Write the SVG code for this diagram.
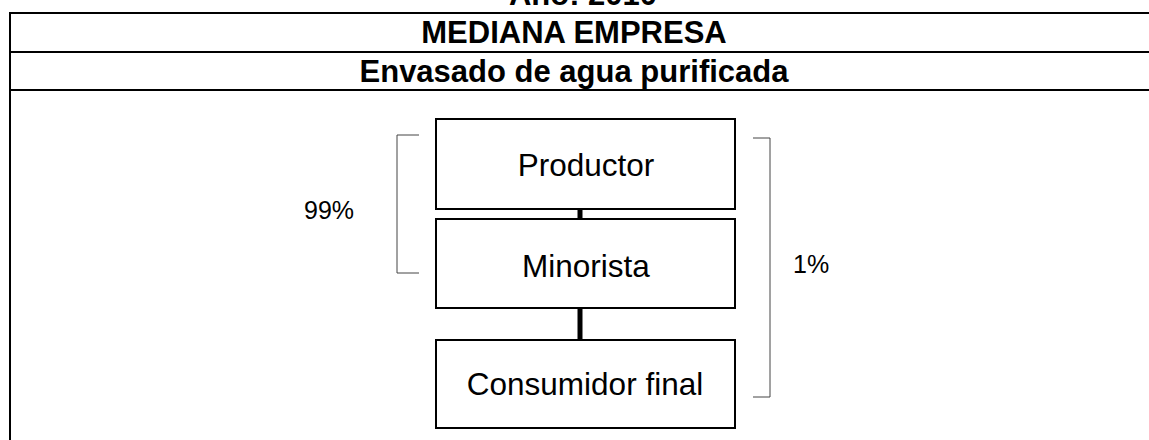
<svg xmlns="http://www.w3.org/2000/svg" width="1149" height="440" viewBox="0 0 1149 440">
<style>
.hdr{font-family:"Liberation Sans",Arial,sans-serif;font-weight:bold;font-size:31px;text-anchor:middle;fill:#000}
.lbl{font-family:"Liberation Sans",Arial,sans-serif;font-size:31.5px;text-anchor:middle;fill:#000}
.pct{font-family:"Liberation Sans",Arial,sans-serif;font-size:25px;fill:#000}
.box{fill:#fff;stroke:#000;stroke-width:2}
.rule{stroke:#000;stroke-width:2}
.br{fill:none;stroke:#444;stroke-width:1}
.conn{stroke:#000;stroke-width:5}
</style>
<rect width="1149" height="440" fill="#fff"/>
<text class="hdr" x="583" y="5">Año: 2010</text>
<g id="table">
<line class="rule" x1="9" y1="13" x2="1149" y2="13"/>
<line class="rule" x1="9" y1="52" x2="1149" y2="52"/>
<line class="rule" x1="9" y1="90" x2="1149" y2="90"/>
<line class="rule" x1="10" y1="12" x2="10" y2="440"/>
<text class="hdr" x="574" y="43">MEDIANA EMPRESA</text>
<text class="hdr" x="574" y="82">Envasado de agua purificada</text>
</g>
<g id="connectors">
<line class="conn" x1="580" y1="209" x2="580" y2="219"/>
<line class="conn" x1="580" y1="308" x2="580" y2="340"/>
</g>
<g id="productor">
<rect class="box" x="436" y="119" width="299" height="90"/>
<text class="lbl" x="586" y="176">Productor</text>
</g>
<g id="minorista">
<rect class="box" x="436" y="219" width="299" height="89"/>
<text class="lbl" x="586" y="277">Minorista</text>
</g>
<g id="consumidor">
<rect class="box" x="436" y="340" width="299" height="88"/>
<text class="lbl" x="585" y="395">Consumidor final</text>
</g>
<g id="bracket99">
<polyline class="br" points="419,135 397,135 397,273 419,273"/>
<text class="pct" x="304" y="219">99%</text>
</g>
<g id="bracket1">
<polyline class="br" points="753,138 770,138 770,397 753,397"/>
<text class="pct" x="793" y="273">1%</text>
</g>
</svg>
